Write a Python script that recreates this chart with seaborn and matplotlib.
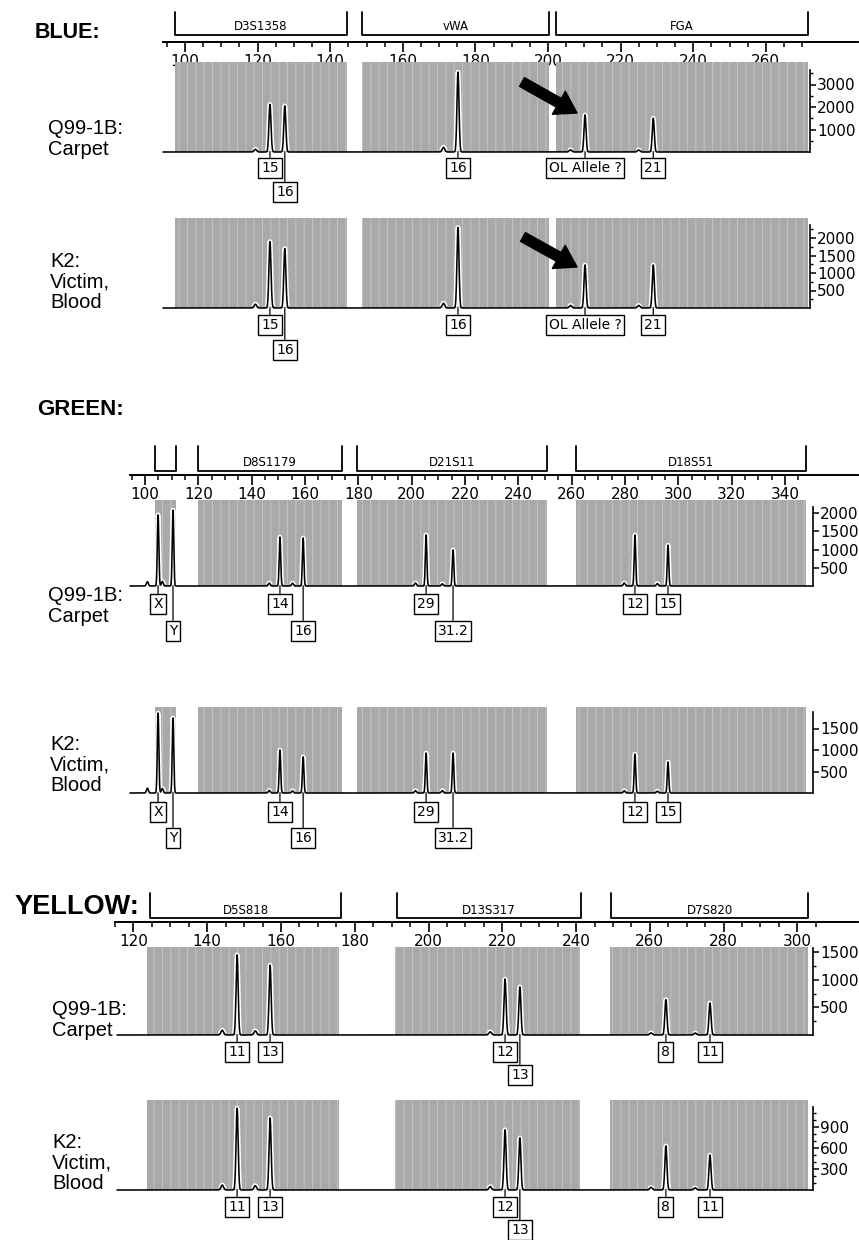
import numpy as np
import matplotlib
matplotlib.use("Agg")
import matplotlib.pyplot as plt
import seaborn as sns

# ------------------------------------------------------------------ data
# BLUE dye
blue_loci = ["D3S1358", "vWA", "FGA"]
blue_locus_start = [97.2, 148.8, 202.3]
blue_locus_end = [144.7, 200.4, 271.6]
blue_alleles = ["15", "16", "16", "OL Allele ?", "21"]
blue_allele_bp = [123.4, 127.5, 175.2, 210.2, 229.0]
blue_q99_rfu = [2000, 2050, 3550, 1650, 1500]
blue_k2_rfu = [1800, 1700, 2300, 1230, 1230]
blue_xticks = [100, 120, 140, 160, 180, 200, 220, 240, 260]
blue_q99_yticks = [1000, 2000, 3000]
blue_k2_yticks = [500, 1000, 1500, 2000]

# GREEN dye
green_loci = ["", "D8S1179", "D21S11", "D18S51"]
green_locus_start = [103.8, 119.9, 179.5, 261.5]
green_locus_end = [111.8, 173.9, 250.6, 348.0]
green_alleles = ["X", "Y", "14", "16", "29", "31.2", "12", "15"]
green_allele_bp = [104.9, 110.5, 150.6, 159.3, 205.4, 215.5, 283.7, 296.1]
green_q99_rfu = [1950, 2080, 1340, 1315, 1400, 990, 1400, 1120]
green_k2_rfu = [1860, 1745, 1000, 840, 930, 930, 905, 720]
green_xticks = [100, 120, 140, 160, 180, 200, 220, 240, 260, 280, 300, 320, 340]
green_q99_yticks = [500, 1000, 1500, 2000]
green_k2_yticks = [500, 1000, 1500]

# YELLOW dye
yellow_loci = ["D5S818", "D13S317", "D7S820"]
yellow_locus_start = [124.6, 191.5, 249.5]
yellow_locus_end = [176.4, 241.4, 302.9]
yellow_alleles = ["11", "13", "12", "13", "8", "11"]
yellow_allele_bp = [148.9, 157.8, 221.2, 225.2, 264.6, 276.5]
yellow_q99_rfu = [1450, 1265, 960, 870, 640, 580]
yellow_k2_rfu = [1170, 1030, 815, 745, 630, 500]
yellow_xticks = [120, 140, 160, 180, 200, 220, 240, 260, 280, 300]
yellow_q99_yticks = [500, 1000, 1500]
yellow_k2_yticks = [300, 600, 900]

sample_q99 = "Q99-1B:\nCarpet"
sample_k2 = "K2:\nVictim,\nBlood"

# ------------------------------------------------------------------ style
sns.set_style("white")
plt.rcParams["font.family"] = ["DejaVu Sans"]
plt.rcParams["text.color"] = "black"
plt.rcParams["xtick.color"] = "black"
plt.rcParams["ytick.color"] = "black"
plt.rcParams["axes.edgecolor"] = "black"
plt.rcParams["hatch.linewidth"] = 0.7
W, H = 859, 1240
fig = plt.figure(figsize=(W / 100, H / 100), dpi=100)
GRAY = "#a9a9a9"
HATCH_C = "#c2c2c2"
LABEL_FONT = ["Liberation Sans", "DejaVu Sans"]


def px_axes(left, right, top, bottom):
    return fig.add_axes([left / W, 1 - bottom / H, (right - left) / W, (bottom - top) / H])


def fig_text(x, y, s, **kw):
    fig.text(x / W, 1 - y / H, s, **kw)


def make_trace(xg, bps, heights):
    y = np.zeros_like(xg)
    for b, h in zip(bps, heights):
        y += h * np.exp(-0.5 * ((xg - b) / 0.28) ** 2)
        y += 0.06 * h * np.exp(-0.5 * ((xg - b + 4.0) / 0.35) ** 2)
    return y


def draw_section(cfg, loci, starts, ends, alleles, bps, xticks, rows, levels, arrow_rows=None):
    bpf = lambda px: cfg["bp0"] + (px - cfg["px0"]) / cfg["s"]

    fig_text(cfg["title_xy"][0], cfg["title_xy"][1], cfg["title"], fontsize=cfg["title_size"],
             fontweight="bold", family=LABEL_FONT, ha="left", va="center")

    # ruler with locus brackets
    rl, rr = cfg["ruler_lr"]
    rax = px_axes(rl, rr, cfg["br_top"], cfg["ruler_y"])
    rax.patch.set_visible(False)
    rax.set_xlim(bpf(rl), bpf(rr))
    rax.set_ylim(0, 1)
    for sp in ["top", "left", "right"]:
        rax.spines[sp].set_visible(False)
    rax.spines["bottom"].set_linewidth(1.4)
    rax.set_yticks([])
    rax.set_xticks(xticks)
    rax.set_xticklabels([str(t) for t in xticks])
    rax.set_xticks(np.arange(cfg["minor"][0], cfg["minor"][1] + 0.1, 5), minor=True)
    rax.tick_params(axis="x", which="major", direction="out", length=7, width=1.2,
                    labelsize=11, pad=1.5, bottom=True)
    rax.tick_params(axis="x", which="minor", direction="out", length=3.5, width=1.1, bottom=True)
    span = cfg["ruler_y"] - cfg["br_top"]
    yb = (cfg["ruler_y"] - cfg["br_bottom"]) / span
    yt = (cfg["ruler_y"] - cfg["br_bottom"] + 8) / span
    for name, s, e in zip(loci, starts, ends):
        rax.plot([s, s, e, e], [1, yb, yb, 1], color="black", lw=1.3, clip_on=False)
        if name:
            rax.text((s + e) / 2, yt, name, ha="center", va="center", fontsize=8.5)

    tl, tr = cfg["trace_lr"]
    for ri, row in enumerate(rows):
        ax = px_axes(tl, tr, row["top"], row["base"])
        ax.patch.set_visible(False)
        x0, x1 = bpf(tl), bpf(tr)
        ymax = (row["base"] - row["top"]) / row["ppu"]
        ax.set_xlim(x0, x1)
        ax.set_ylim(0, ymax)
        for s, e in zip(starts, ends):
            ax.axvspan(s, e, facecolor=GRAY, edgecolor=HATCH_C, hatch="||", lw=0, zorder=0)
        xg = np.linspace(x0, x1, 8000)
        yg = make_trace(xg, bps, row["rfu"])
        halo = np.where(yg > 0.012 * ymax, yg, np.nan)
        ax.plot(xg, halo, color="white", lw=3.4, zorder=2, clip_on=False,
                solid_capstyle="butt")
        sns.lineplot(x=xg, y=yg, ax=ax, color="black", linewidth=1.15, estimator=None,
                     sort=False, zorder=3)
        ax.lines[-1].set_clip_on(False)
        for sp in ["top", "left", "bottom"]:
            ax.spines[sp].set_visible(False)
        ax.spines["right"].set_linewidth(1.2)
        ax.spines["right"].set_bounds(0, row["axis_top"])
        ax.set_xticks([])
        ax.yaxis.set_ticks_position("right")
        ax.set_yticks(row["yticks"])
        ax.set_yticklabels([str(t) for t in row["yticks"]])
        if row.get("yminor"):
            ax.set_yticks(np.arange(row["yminor"], row["axis_top"], row["yminor"]), minor=True)
        ax.tick_params(axis="y", which="major", direction="out", length=4, width=1.1,
                       labelsize=11, pad=1, right=True, left=False)
        ax.tick_params(axis="y", which="minor", direction="out", length=2.5, width=1.0,
                       right=True, left=False)
        ax.set_xlabel("")
        ax.set_ylabel("")
        # allele call boxes
        for lab, b, lev in zip(alleles, bps, levels):
            off = row["lev1"] if lev == 1 else row["lev2"]
            ax.annotate(lab, xy=(b, 0), xytext=(0, -off * 0.72), textcoords="offset points",
                        ha="center", va="center", fontsize=10, annotation_clip=False,
                        bbox=dict(boxstyle="square,pad=0.22", fc="white", ec="black", lw=1.0),
                        arrowprops=dict(arrowstyle="-", lw=0.9, color="black",
                                        shrinkA=0, shrinkB=0))
        if arrow_rows and ri in arrow_rows:
            (tx, ty), (hx, hy) = arrow_rows[ri]
            ax.annotate("", xy=(bpf(hx), (row["base"] - hy) / row["ppu"]),
                        xytext=(bpf(tx), (row["base"] - ty) / row["ppu"]),
                        annotation_clip=False,
                        arrowprops=dict(arrowstyle="simple,head_length=0.75,head_width=0.95,tail_width=0.36",
                                        color="black", mutation_scale=20, shrinkA=0, shrinkB=0))
        # sample label
        fig_text(row["label_x"], row["label_y"], row["label"], fontsize=14.5, family=LABEL_FONT,
                 ha="left", va="center", linespacing=1.12)


# ------------------------------------------------------------------ BLUE
blue_cfg = dict(title="BLUE:", title_xy=(35, 32), title_size=15.5,
                px0=185, bp0=100, s=3.63,
                ruler_lr=(163, 858), ruler_y=42, br_top=12, br_bottom=35, minor=(95, 270),
                trace_lr=(163, 810))
blue_rows = [
    dict(base=152, top=62, ppu=0.0225, axis_top=3650, yticks=blue_q99_yticks, yminor=500,
         rfu=blue_q99_rfu, lev1=16, lev2=40, label=sample_q99, label_x=48, label_y=139),
    dict(base=308, top=218, ppu=0.035, axis_top=2380, yticks=blue_k2_yticks, yminor=250,
         rfu=blue_k2_rfu, lev1=17, lev2=42, label=sample_k2, label_x=50, label_y=282),
]
draw_section(blue_cfg, blue_loci, blue_locus_start, blue_locus_end, blue_alleles,
             blue_allele_bp, blue_xticks, blue_rows, [1, 2, 1, 1, 1],
             arrow_rows={0: ((522, 82), (577, 113)), 1: ((523, 237), (577, 267))})

# ------------------------------------------------------------------ GREEN
green_cfg = dict(title="GREEN:", title_xy=(37, 410), title_size=16,
                 px0=145, bp0=100, s=2.667,
                 ruler_lr=(130, 858), ruler_y=475, br_top=446, br_bottom=471, minor=(95, 345),
                 trace_lr=(130, 813))
green_rows = [
    dict(base=586, top=500, ppu=0.0365, axis_top=2160, yticks=green_q99_yticks, yminor=None,
         rfu=green_q99_rfu, lev1=18, lev2=45, label=sample_q99, label_x=48, label_y=606),
    dict(base=793, top=707, ppu=0.043, axis_top=1880, yticks=green_k2_yticks, yminor=None,
         rfu=green_k2_rfu, lev1=19, lev2=45, label=sample_k2, label_x=50, label_y=765),
]
draw_section(green_cfg, green_loci, green_locus_start, green_locus_end, green_alleles,
             green_allele_bp, green_xticks, green_rows, [1, 2, 1, 2, 1, 2, 1, 1])

# ------------------------------------------------------------------ YELLOW
yellow_cfg = dict(title="YELLOW:", title_xy=(15, 907), title_size=19.5,
                  px0=130, bp0=120, s=3.706,
                  ruler_lr=(115, 858), ruler_y=922, br_top=893, br_bottom=918, minor=(115, 305),
                  trace_lr=(117, 813))
yellow_rows = [
    dict(base=1035, top=947, ppu=0.0553, axis_top=1580, yticks=yellow_q99_yticks, yminor=250,
         rfu=yellow_q99_rfu, lev1=17, lev2=40, label=sample_q99, label_x=52, label_y=1020),
    dict(base=1190, top=1100, ppu=0.07, axis_top=1190, yticks=yellow_k2_yticks, yminor=100,
         rfu=yellow_k2_rfu, lev1=17, lev2=40, label=sample_k2, label_x=52, label_y=1163),
]
draw_section(yellow_cfg, yellow_loci, yellow_locus_start, yellow_locus_end, yellow_alleles,
             yellow_allele_bp, yellow_xticks, yellow_rows, [1, 1, 1, 2, 1, 1])

fig.savefig("out.png", dpi=100)
